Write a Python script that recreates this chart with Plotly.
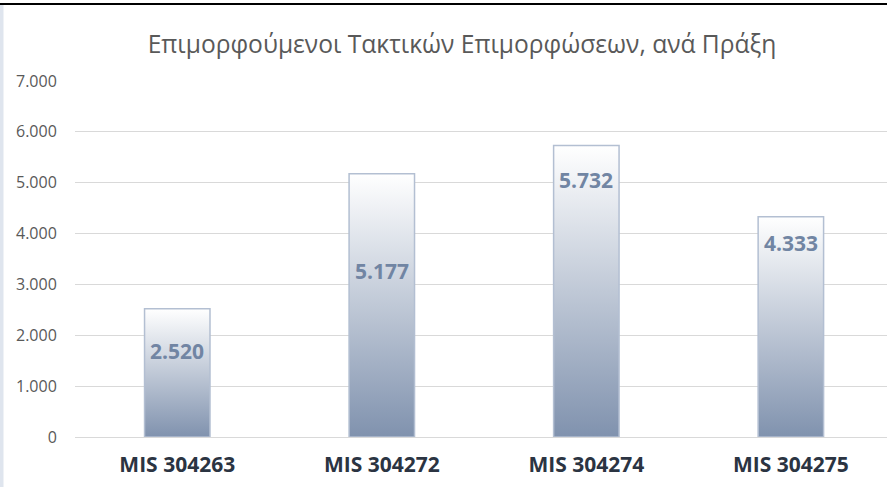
import plotly.graph_objects as go

# ---- data ----
categories = ["MIS 304263", "MIS 304272", "MIS 304274", "MIS 304275"]
values = [2520, 5177, 5732, 4333]
value_labels = ["2.520", "5.177", "5.732", "4.333"]
y_tickvals = [0, 1000, 2000, 3000, 4000, 5000, 6000, 7000]
title_text = "Επιμορφούμενοι Τακτικών Επιμορφώσεων, ανά Πράξη"

# ---- styling / layout constants ----
W, H = 887, 487
ML, MR, MT, MB = 75, 0, 81, 50
BAR_W = 0.32
LABEL_Y = [1700, 3260, 5060, 3810]  # where the data labels sit (chart styling)
FONT = "Open Sans"

fig = go.Figure()

for i, (c, v) in enumerate(zip(categories, values)):
    x0, x1 = i - BAR_W / 2, i + BAR_W / 2
    fig.add_trace(go.Scatter(
        x=[x0, x0, x1, x1, x0], y=[0, v, v, 0, 0],
        mode="lines", fill="toself",
        fillgradient=dict(type="vertical", start=0, stop=v,
                          colorscale=[[0, "#8092ae"], [1, "#ffffff"]]),
        line=dict(color="#b3bfd2", width=1.5),
        hoverinfo="skip", showlegend=False, name=c,
    ))

for i, (t, ly) in enumerate(zip(value_labels, LABEL_Y)):
    fig.add_annotation(x=i, y=ly, text=f"<b>{t}</b>", showarrow=False,
                       font=dict(family=FONT, size=21, color="#7185a3"),
                       xref="x", yref="y")

plot_w = W - ML - MR
plot_h = H - MT - MB

def px_x(p):
    return (p - ML) / plot_w

def px_y(p):
    return (H - MB - p) / plot_h

fig.add_shape(type="rect", xref="paper", yref="paper",
              x0=px_x(0), x1=px_x(3.5), y0=px_y(H), y1=px_y(5),
              fillcolor="#dfe5ee", line=dict(width=0), layer="below")
fig.add_shape(type="line", xref="paper", yref="paper",
              x0=px_x(0), x1=px_x(W), y0=px_y(4), y1=px_y(4),
              line=dict(color="#000000", width=2))

fig.update_layout(
    width=W, height=H,
    margin=dict(l=ML, r=MR, t=MT, b=MB),
    paper_bgcolor="white", plot_bgcolor="white",
    separators=",.",
    title=dict(text=title_text, x=462 / W, xanchor="center",
               y=1 - 44 / H, yanchor="middle",
               font=dict(family=FONT, size=24.6, color="#595959")),
    xaxis=dict(range=[-0.5, 3.47], tickvals=list(range(len(categories))),
               ticktext=[f"<b>{c}</b>" for c in categories],
               showgrid=False, zeroline=False, showline=False,
               ticks="outside", ticklen=9, tickcolor="rgba(0,0,0,0)",
               tickfont=dict(family=FONT, size=21, color="#2b3442"),
               fixedrange=True),
    yaxis=dict(range=[0, 7000], tickvals=y_tickvals, tickformat=",d",
               showgrid=True, gridcolor="#d9d9d9", gridwidth=1,
               zeroline=True, zerolinecolor="#d9d9d9", zerolinewidth=1,
               showline=False, ticks="outside", ticklen=14,
               tickcolor="rgba(0,0,0,0)",
               tickfont=dict(family=FONT, size=16, color="#595959"),
               fixedrange=True),
    showlegend=False,
)

fig.write_html("out.html", config={"displayModeBar": False},
               post_script="document.body.style.margin='0';document.body.style.overflow='hidden';")
